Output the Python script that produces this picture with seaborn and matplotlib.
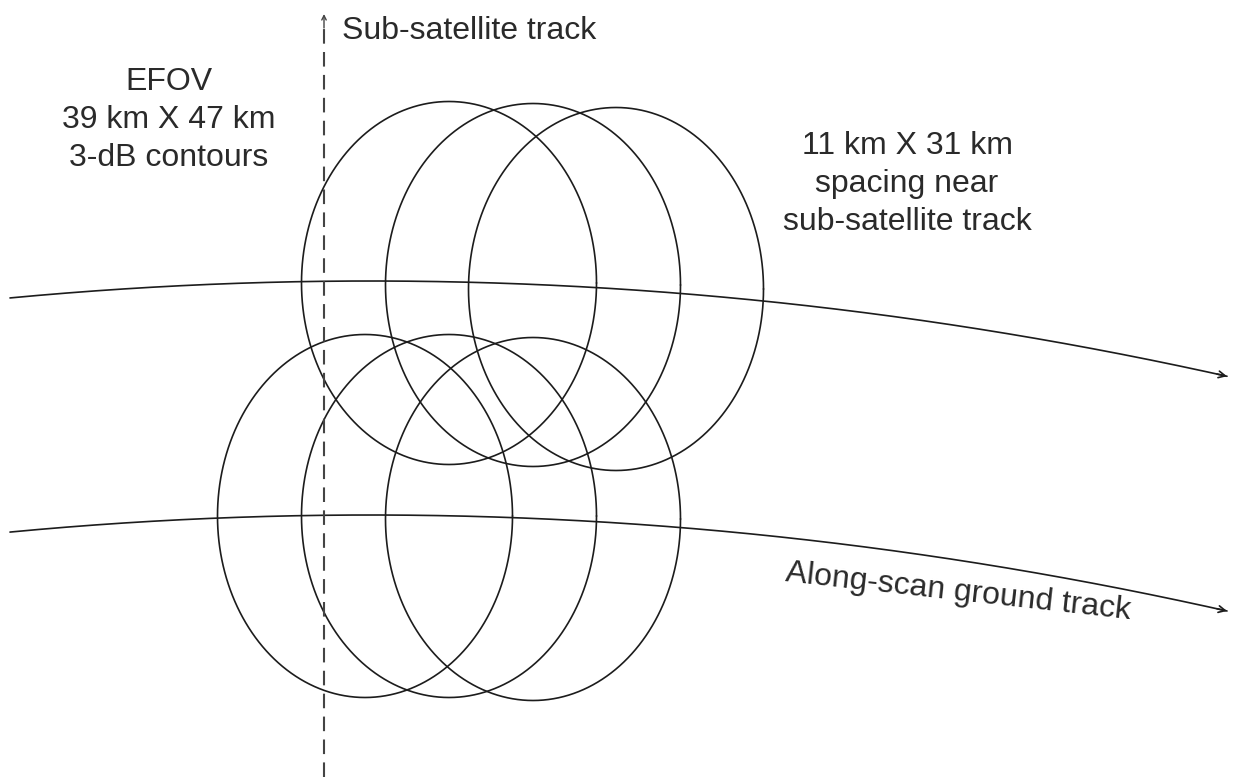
import numpy as np
import pandas as pd
import matplotlib
matplotlib.use("Agg")
import matplotlib.pyplot as plt
import seaborn as sns

# --- values (pixel units of the 1233x777 canvas) ---
track_names = ["upper scan", "lower scan"]
track_vertex_y = [281, 515]          # highest point of each along-scan track
track_vertex_x = 371                 # x where both tracks peak
track_curvature = [1.30e-4, 1.31e-4]
track_x_start = 10
track_x_end = 1227

upper_row_x = [449, 533, 616]        # footprint centres, upper scan
upper_row_y = [283, 285, 289]
lower_row_x = [365, 449, 533]        # footprint centres, lower scan
lower_row_y = [516, 516, 519]
efov_half_w = 147.5                  # 39 km across
efov_half_h = 181.5                  # 47 km along

subsat_x = 324                       # sub-satellite track (dashed)
subsat_y_top = 14

label_efov = "EFOV\n39 km X 47 km\n3-dB contours"
label_spacing = "11 km X 31 km\nspacing near\nsub-satellite track"
label_subsat = "Sub-satellite track"
label_scan = "Along-scan ground track"

LINE = "#1c1c1c"
TEXT = "#2a2a2a"

# --- build tables ---
xs = np.linspace(track_x_start, track_x_end, 300)
tracks = pd.concat([
    pd.DataFrame({"x": xs,
                  "y": y0 + k * (xs - track_vertex_x) ** 2,
                  "track": name})
    for name, y0, k in zip(track_names, track_vertex_y, track_curvature)
])

t = np.linspace(0, 2 * np.pi, 361)
centres = list(zip(upper_row_x, upper_row_y)) + list(zip(lower_row_x, lower_row_y))
footprints = pd.concat([
    pd.DataFrame({"x": cx + efov_half_w * np.cos(t),
                  "y": cy + efov_half_h * np.sin(t),
                  "fp": i})
    for i, (cx, cy) in enumerate(centres)
])

# --- draw ---
sns.set_theme(style="white")
plt.rcParams["font.family"] = ["Liberation Sans", "DejaVu Sans"]

fig = plt.figure(figsize=(12.33, 7.77), dpi=100)
ax = fig.add_axes([0, 0, 1, 1])

sns.lineplot(data=footprints, x="x", y="y", units="fp", estimator=None,
             sort=False, color=LINE, lw=1.2, ax=ax)
sns.lineplot(data=tracks, x="x", y="y", units="track", estimator=None,
             sort=False, color=LINE, lw=1.2, ax=ax)

# arrow heads at the end of each track
for y0, k in zip(track_vertex_y, track_curvature):
    x1 = track_x_end
    y1 = y0 + k * (x1 - track_vertex_x) ** 2
    slope = 2 * k * (x1 - track_vertex_x)
    ax.annotate("", xy=(x1, y1), xytext=(x1 - 10, y1 - 10 * slope),
                arrowprops=dict(arrowstyle="->", color=LINE, lw=1.2,
                                mutation_scale=12, shrinkA=0, shrinkB=0))

# sub-satellite track
ax.plot([subsat_x, subsat_x], [777, subsat_y_top + 14], color="#444444",
        lw=1.5, linestyle=(0, (7, 4)))
ax.annotate("", xy=(subsat_x, subsat_y_top), xytext=(subsat_x, subsat_y_top + 14),
            arrowprops=dict(arrowstyle="->", color="#444444", lw=1.0,
                            mutation_scale=8, shrinkA=0, shrinkB=0))

ax.text(342, 31, label_subsat, fontsize=23, ha="left", va="center", color=TEXT)
ax.text(169, 120, label_efov, fontsize=23, ha="center", va="center",
        multialignment="center", linespacing=1.33, color=TEXT)
ax.text(907, 184, label_spacing, fontsize=23, ha="center", va="center",
        multialignment="center", linespacing=1.33, color=TEXT)
ax.text(958, 592, label_scan, fontsize=23, ha="center", va="center",
        rotation=-6.3, rotation_mode="anchor", color=TEXT)

ax.set_xlim(0, 1233)
ax.set_ylim(777, 0)
ax.set_axis_off()
if ax.get_legend() is not None:
    ax.get_legend().remove()

fig.savefig("out.png", dpi=100, facecolor="white")
plt.close(fig)
